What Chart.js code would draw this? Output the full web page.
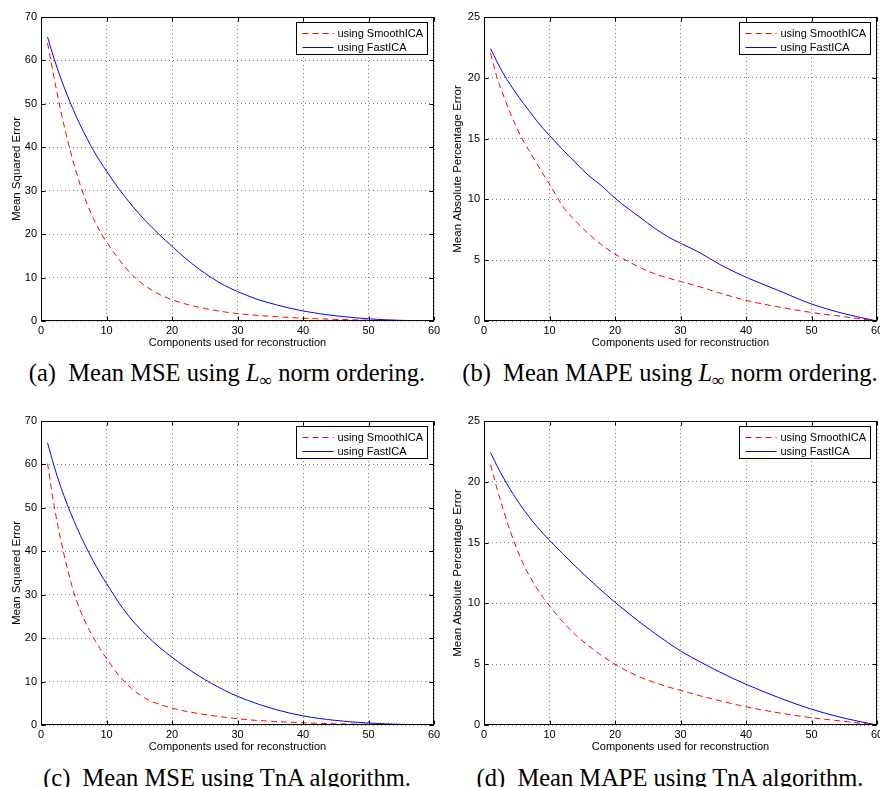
<!DOCTYPE html>
<html>
<head>
<meta charset="utf-8">
<script src="https://cdn.jsdelivr.net/npm/chart.js"></script>
<style>
  html, body { margin: 0; padding: 0; background: #fff; overflow: hidden; }
  #wrap { position: relative; width: 880px; height: 787px; background: #fff; overflow: hidden; }
  canvas { position: absolute; }
  .legenda { position: absolute; transform: translateX(-50%); white-space: nowrap;
    font-family: "Liberation Serif", "Times New Roman", serif; font-size: 24.5px; line-height: 26px; color: #000; }
  .legenda i { font-style: italic; }
  .legenda sub { font-size: 0.72em; vertical-align: -0.3em; line-height: 0; }
</style>
</head>
<body>
<div id="wrap">
  <canvas id="chartA" width="440" height="350" style="left:0px;top:0px"></canvas>
  <canvas id="chartB" width="440" height="350" style="left:440px;top:0px"></canvas>
  <canvas id="chartC" width="440" height="350" style="left:0px;top:404px"></canvas>
  <canvas id="chartD" width="440" height="350" style="left:440px;top:404px"></canvas>
  <div class="legenda" style="left:227px;top:360px">(a)&nbsp; Mean MSE using <i>L</i><sub>∞</sub> norm ordering.</div>
  <div class="legenda" style="left:670px;top:360px">(b)&nbsp; Mean MAPE using <i>L</i><sub>∞</sub> norm ordering.</div>
  <div class="legenda" style="left:227px;top:765px">(c)&nbsp; Mean MSE using TnA algorithm.</div>
  <div class="legenda" style="left:670px;top:765px">(d)&nbsp; Mean MAPE using TnA algorithm.</div>
</div>
<script>
// COMPONENTES USADOS (EIXO X)
const componentes = [1, 2, 3, 4, 5, 6, 7, 8, 9, 10, 12, 14, 16, 18, 20, 22, 24, 26, 28, 30, 33, 36, 40, 45, 50, 55, 60];

// (a) MSE COM ORDENACAO L-INFINITO
const mseSmoothInf = [64, 56, 48.5, 42, 36.3, 31.3, 27.1, 23.6, 20.7, 18.2, 14.0, 10.5, 8.0, 6.2, 4.9, 3.95, 3.2, 2.6, 2.1, 1.7, 1.3, 1.0, 0.65, 0.38, 0.18, 0.07, 0];
const mseFastInf = [65.4, 60.4, 56.0, 52.0, 48.4, 45.1, 42.1, 39.3, 36.8, 34.5, 30.2, 26.4, 23.0, 20.0, 17.2, 14.5, 12.1, 10.0, 8.2, 6.8, 5.0, 3.7, 2.3, 1.2, 0.5, 0.15, 0];

// (b) MAPE COM ORDENACAO L-INFINITO
const mapeSmoothInf = [22.0, 20.0, 18.5, 17.1, 15.9, 14.8, 13.9, 13.0, 12.1, 11.25, 9.45, 8.2, 7.15, 6.25, 5.5, 4.9, 4.35, 3.9, 3.55, 3.25, 2.8, 2.3, 1.7, 1.15, 0.7, 0.35, 0];
const mapeFastInf = [22.4, 21.3, 20.3, 19.45, 18.65, 17.9, 17.2, 16.5, 15.85, 15.25, 14.1, 13.0, 11.95, 11.1, 10.1, 9.25, 8.45, 7.65, 6.95, 6.4, 5.6, 4.65, 3.6, 2.5, 1.4, 0.6, 0];

// (c) MSE COM ALGORITMO TnA
const mseSmoothTna = [60.2, 50.5, 42.8, 36.2, 30.6, 26.3, 23.0, 20.1, 17.6, 15.3, 11.2, 8.2, 6.1, 4.8, 3.9, 3.2, 2.65, 2.2, 1.8, 1.45, 1.05, 0.8, 0.5, 0.28, 0.15, 0.05, 0];
const mseFastTna = [65, 59.6, 54.9, 50.8, 47.1, 43.7, 40.6, 37.7, 35.0, 32.6, 27.9, 24.0, 20.8, 18.0, 15.6, 13.4, 11.4, 9.6, 8.0, 6.6, 4.9, 3.5, 2.1, 1.05, 0.45, 0.15, 0];

// (d) MAPE COM ALGORITMO TnA
const mapeSmoothTna = [21.4, 19.4, 17.6, 15.95, 14.5, 13.25, 12.2, 11.3, 10.5, 9.8, 8.5, 7.4, 6.5, 5.7, 5.0, 4.4, 3.9, 3.5, 3.15, 2.85, 2.4, 2.0, 1.5, 1.0, 0.6, 0.3, 0];
const mapeFastTna = [22.4, 21.3, 20.3, 19.38, 18.53, 17.75, 17.03, 16.37, 15.76, 15.19, 14.09, 13.03, 12.01, 11.03, 10.09, 9.21, 8.37, 7.57, 6.81, 6.09, 5.19, 4.35, 3.35, 2.25, 1.3, 0.56, 0];

// TICKS DOS EIXOS
const xTicks = [0, 10, 20, 30, 40, 50, 60];
const mseTicks = [0, 10, 20, 30, 40, 50, 60, 70];
const mapeTicks = [0, 5, 10, 15, 20, 25];

const seriesNomes = ['using SmoothICA', 'using FastICA'];
const seriesCores = ['#ff0000', '#0000ff'];
const seriesTracos = [[6, 4], []];

const fonteSans = '"Liberation Sans", Arial, Helvetica, sans-serif';

// PLUGIN PARA DESENHAR A CAIXA DO GRAFICO, OS TICKS INTERNOS E A LEGENDA ESTILO MATLAB
const caixaMatlab = {
  id: 'caixaMatlab',
  afterDraw(chart) {
    const ctx = chart.ctx;
    const area = chart.chartArea;
    const l = Math.round(area.left) + 0.5, r = Math.round(area.right) - 0.5;
    const t = Math.round(area.top) + 0.5, b = Math.round(area.bottom) - 0.5;
    ctx.save();
    ctx.strokeStyle = '#000';
    ctx.lineWidth = 1;
    ctx.setLineDash([]);
    ctx.strokeRect(l, t, r - l, b - t);

    // TICKS PARA DENTRO
    ctx.beginPath();
    chart.scales.x.ticks.forEach(tk => {
      const px = Math.round(chart.scales.x.getPixelForValue(tk.value)) + 0.5;
      ctx.moveTo(px, b); ctx.lineTo(px, b - 4);
      ctx.moveTo(px, t); ctx.lineTo(px, t + 4);
    });
    chart.scales.y.ticks.forEach(tk => {
      const py = Math.round(chart.scales.y.getPixelForValue(tk.value)) + 0.5;
      ctx.moveTo(l, py); ctx.lineTo(l + 4, py);
      ctx.moveTo(r, py); ctx.lineTo(r - 4, py);
    });
    ctx.stroke();

    // LEGENDA
    const w = 131, h = 32;
    const bx = Math.round(area.right) - 7 - w + 0.5;
    const by = Math.round(area.top) + 5 + 0.5;
    ctx.fillStyle = '#fff';
    ctx.fillRect(bx, by, w, h);
    ctx.strokeStyle = '#000';
    ctx.strokeRect(bx, by, w, h);
    ctx.font = '11px ' + fonteSans;
    ctx.textBaseline = 'middle';
    seriesNomes.forEach((nome, i) => {
      const ly = Math.round(by + 10 + i * 14) + 0.5;
      ctx.beginPath();
      ctx.strokeStyle = seriesCores[i];
      ctx.lineWidth = 1;
      ctx.setLineDash(seriesTracos[i]);
      ctx.moveTo(bx + 6, ly);
      ctx.lineTo(bx + 37, ly);
      ctx.stroke();
      ctx.fillStyle = '#000';
      ctx.fillText(nome, bx + 41, ly);
    });
    ctx.restore();
  }
};

// FUNCAO PARA CRIAR CADA GRAFICO
function criarGrafico(canvasId, smooth, fast, yTicks, yTitulo, padLeft, yWidth, padRight) {
  const ctx = document.getElementById(canvasId).getContext('2d');
  const series = [smooth, fast];
  return new Chart(ctx, {
    type: 'line',
    data: {
      datasets: series.map((valores, s) => ({
        label: seriesNomes[s],
        data: componentes.map((c, i) => ({ x: c, y: valores[i] })),
        borderColor: seriesCores[s],
        borderWidth: 1,
        borderDash: seriesTracos[s],
        pointRadius: 0,
        cubicInterpolationMode: 'monotone',
        fill: false
      }))
    },
    options: {
      responsive: false,
      animation: false,
      devicePixelRatio: 1,
      layout: { padding: { left: padLeft, top: 17, right: padRight, bottom: 0 } },
      plugins: { legend: { display: false }, tooltip: { enabled: false } },
      scales: {
        x: {
          type: 'linear',
          min: xTicks[0],
          max: xTicks[xTicks.length - 1],
          afterBuildTicks: s => { s.ticks = xTicks.map(v => ({ value: v })); },
          afterFit: s => { s.height = 29; s.paddingLeft = 0; s.paddingRight = 0; },
          ticks: { color: '#000', font: { family: fonteSans, size: 11 }, padding: 3, maxRotation: 0, autoSkip: false },
          grid: { color: 'rgba(0,0,0,0.5)', lineWidth: 1, drawTicks: false },
          border: { display: false, dash: [1, 3] },
          title: { display: true, text: 'Components used for reconstruction', color: '#000',
            font: { family: fonteSans, size: 11 }, padding: 0 }
        },
        y: {
          type: 'linear',
          min: yTicks[0],
          max: yTicks[yTicks.length - 1],
          afterBuildTicks: s => { s.ticks = yTicks.map(v => ({ value: v })); },
          afterFit: s => { s.width = yWidth; s.paddingTop = 0; s.paddingBottom = 0; },
          ticks: { color: '#000', font: { family: fonteSans, size: 11 }, padding: 4, autoSkip: false },
          grid: { color: 'rgba(0,0,0,0.5)', lineWidth: 1, drawTicks: false },
          border: { display: false, dash: [1, 3] },
          title: { display: true, text: yTitulo, color: '#000',
            font: { family: fonteSans, size: 11.5 }, padding: 0 }
        }
      }
    },
    plugins: [caixaMatlab]
  });
}

criarGrafico('chartA', mseSmoothInf, mseFastInf, mseTicks, 'Mean Squared Error', 10, 31, 6);
criarGrafico('chartB', mapeSmoothInf, mapeFastInf, mapeTicks, 'Mean Absolute Percentage Error', 11, 33, 3);
criarGrafico('chartC', mseSmoothTna, mseFastTna, mseTicks, 'Mean Squared Error', 10, 31, 6);
criarGrafico('chartD', mapeSmoothTna, mapeFastTna, mapeTicks, 'Mean Absolute Percentage Error', 11, 33, 3);
</script>
</body>
</html>
